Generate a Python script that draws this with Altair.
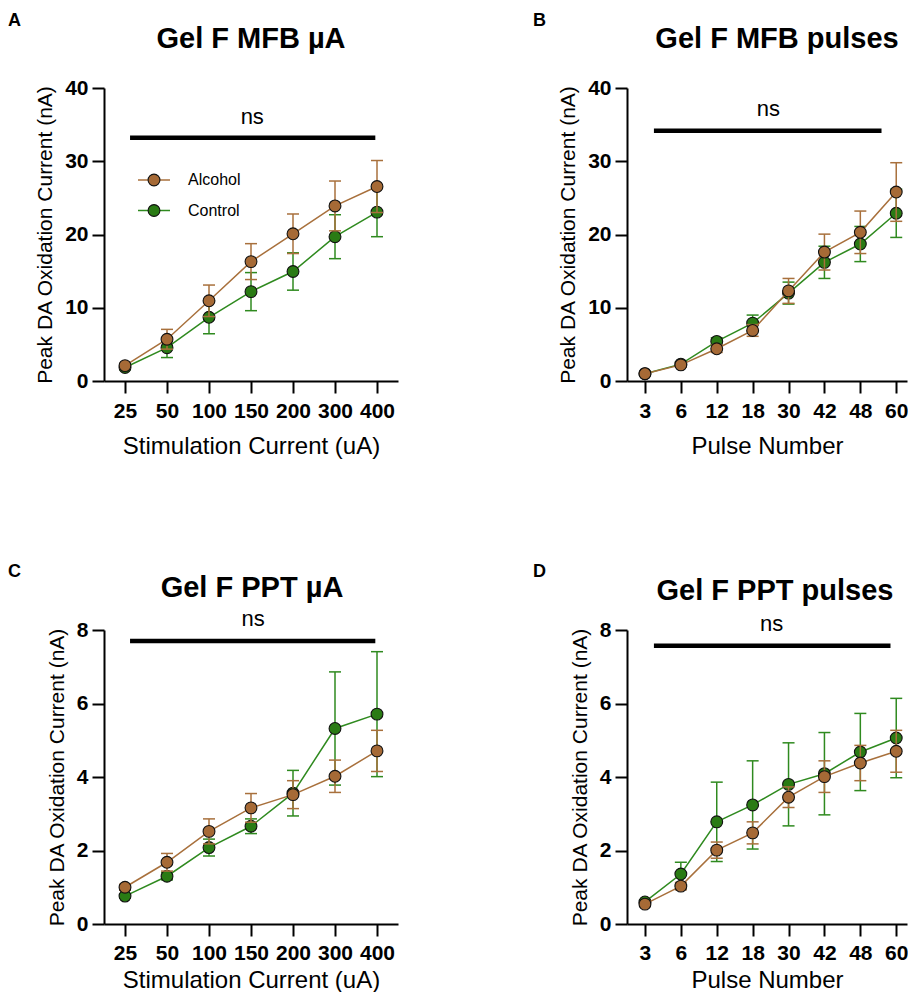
import json
import altair as alt
import pandas as pd

FONT = "Liberation Sans"
BROWN = "#A66A36"
BROWN_LINE = "#A8703C"
GREEN = "#2A7B14"
GREEN_LINE = "#2F8A1F"

series_names = ["Alcohol", "Control"]
y_title = "Peak DA Oxidation Current (nA)"

# ---- Panel A: Gel F MFB µA ----
a_labels = ["25", "50", "100", "150", "200", "300", "400"]
a_alc_mean = [2.1, 5.7, 10.95, 16.3, 20.1, 23.9, 26.55]
a_alc_sem = [0.3, 1.35, 2.15, 2.45, 2.7, 3.4, 3.55]
a_ctl_mean = [1.85, 4.55, 8.7, 12.2, 14.95, 19.7, 23.05]
a_ctl_sem = [0.3, 1.35, 2.25, 2.6, 2.55, 3.0, 3.35]

# ---- Panel B: Gel F MFB pulses ----
b_labels = ["3", "6", "12", "18", "30", "42", "48", "60"]
b_alc_mean = [1.0, 2.2, 4.4, 6.9, 12.3, 17.6, 20.3, 25.8]
b_alc_sem = [0.2, 0.3, 0.5, 0.8, 1.7, 2.45, 2.9, 4.0]
b_ctl_mean = [1.0, 2.3, 5.4, 7.9, 12.0, 16.2, 18.7, 22.9]
b_ctl_sem = [0.2, 0.3, 0.5, 1.1, 1.5, 2.2, 2.4, 3.3]

# ---- Panel C: Gel F PPT µA ----
c_labels = ["25", "50", "100", "150", "200", "300", "400"]
c_alc_mean = [1.0, 1.68, 2.52, 3.16, 3.52, 4.02, 4.71]
c_alc_sem = [0.08, 0.24, 0.34, 0.39, 0.38, 0.44, 0.56]
c_ctl_mean = [0.76, 1.30, 2.08, 2.66, 3.56, 5.32, 5.71]
c_ctl_sem = [0.06, 0.1, 0.23, 0.2, 0.62, 1.54, 1.7]

# ---- Panel D: Gel F PPT pulses ----
d_labels = ["3", "6", "12", "18", "30", "42", "48", "60"]
d_alc_mean = [0.54, 1.03, 2.01, 2.48, 3.45, 4.01, 4.38, 4.70]
d_alc_sem = [0.05, 0.1, 0.22, 0.3, 0.28, 0.43, 0.48, 0.57]
d_ctl_mean = [0.60, 1.36, 2.78, 3.24, 3.80, 4.09, 4.68, 5.06]
d_ctl_sem = [0.05, 0.32, 1.08, 1.2, 1.13, 1.12, 1.05, 1.08]

panel_letters = ["A", "B", "C", "D"]
panel_titles = ["Gel F MFB µA", "Gel F MFB pulses", "Gel F PPT µA", "Gel F PPT pulses"]
x_titles = ["Stimulation Current (uA)", "Pulse Number", "Stimulation Current (uA)", "Pulse Number"]
y_max = [40, 40, 8, 8]
y_ticks = [[0, 10, 20, 30, 40], [0, 10, 20, 30, 40], [0, 2, 4, 6, 8], [0, 2, 4, 6, 8]]

# significance annotation ("ns" over a bar), in data units
ns_text = ["ns", "ns", "ns", "ns"]
ns_x = [3.03, 3.44, 3.05, 3.53]
ns_y = [35.15, 36.15, 8.10, 7.96]
bar_x1 = [0.12, 0.25, 0.12, 0.25]
bar_x2 = [5.96, 6.59, 5.96, 6.84]
bar_y = [33.2, 34.15, 7.70, 7.57]

# layout (pixels)
x_dom_max = [6.5, 7.3, 6.5, 7.3]
widths = [294, 280, 294, 280]
heights = [293, 293, 294, 294]
label_dx = [-96, -94, -96, -94]
label_dy = [-62, -62, -53, -53]
title_cx = [147, 150, 148, 148]
title_dy = [-40, -40, -33, -30]
x_label_pad = [7, 7, 6, 6]
x_title_pad = [13, 13, 5, 5]


def series_df(labels, mean, sem):
    return pd.DataFrame({
        "idx": list(range(len(labels))),
        "cat": labels,
        "mean": mean,
        "lo": [m - s for m, s in zip(mean, sem)],
        "hi": [m + s for m, s in zip(mean, sem)],
    })


def make_panel(i, labels, alc_mean, alc_sem, ctl_mean, ctl_sem, legend=False):
    n = len(labels)
    xscale = alt.Scale(domain=[-0.5, x_dom_max[i]], nice=False, zero=False)
    yscale = alt.Scale(domain=[0, y_max[i]], nice=False, zero=True)
    xaxis = alt.Axis(values=list(range(n)), labelExpr=json.dumps(labels) + "[datum.value]",
                     title=x_titles[i], labelFlush=False, labelOverlap=False, labelBound=False,
                     labelPadding=x_label_pad[i], titlePadding=x_title_pad[i])
    yaxis = alt.Axis(values=y_ticks[i], title=y_title, labelOverlap=False, labelFlush=False)

    def X(field):
        return alt.X(field, type="quantitative", scale=xscale, axis=xaxis)

    def Y(field):
        return alt.Y(field, type="quantitative", scale=yscale, axis=yaxis)

    layers = []
    for mean, sem, fill, lcol in [(ctl_mean, ctl_sem, GREEN, GREEN_LINE),
                                   (alc_mean, alc_sem, BROWN, BROWN_LINE)]:
        df = series_df(labels, mean, sem)
        base = alt.Chart(df)
        layers.append(base.mark_rule(color=lcol, strokeWidth=1.5).encode(
            x=X("idx"), y=Y("lo"), y2=alt.Y2("hi")))
        layers.append(base.mark_tick(color=lcol, orient="horizontal", size=12, thickness=1.5, opacity=1).encode(
            x=X("idx"), y=Y("lo")))
        layers.append(base.mark_tick(color=lcol, orient="horizontal", size=12, thickness=1.5, opacity=1).encode(
            x=X("idx"), y=Y("hi")))
        layers.append(base.mark_line(color=lcol, strokeWidth=1.5).encode(x=X("idx"), y=Y("mean")))
        layers.append(base.mark_point(shape="circle", filled=True, fill=fill, stroke="#111111",
                                      strokeWidth=1.1, size=140, opacity=1).encode(
            x=X("idx"), y=Y("mean")))

    ann = pd.DataFrame({"x1": [bar_x1[i]], "x2": [bar_x2[i]], "by": [bar_y[i]],
                        "nx": [ns_x[i]], "ny": [ns_y[i]], "t": [ns_text[i]]})
    layers.append(alt.Chart(ann).mark_rule(color="black", strokeWidth=4.5, strokeCap="butt").encode(
        x=X("x1"), x2=alt.X2("x2"), y=Y("by")))
    layers.append(alt.Chart(ann).mark_text(font=FONT, fontSize=22, color="black", align="center",
                                           baseline="alphabetic").encode(
        x=X("nx"), y=Y("ny"), text="t:N"))

    tdf = pd.DataFrame({"t": [panel_titles[i]]})
    layers.append(alt.Chart(tdf).mark_text(font=FONT, fontSize=29, fontWeight="bold", color="black",
                                           align="center", baseline="alphabetic").encode(
        x=alt.value(title_cx[i]), y=alt.value(title_dy[i]), text="t:N"))
    ldf = pd.DataFrame({"t": [panel_letters[i]]})
    layers.append(alt.Chart(ldf).mark_text(font=FONT, fontSize=18, fontWeight="bold", color="black",
                                           align="left", baseline="alphabetic").encode(
        x=alt.value(label_dx[i]), y=alt.value(label_dy[i]), text="t:N"))

    if legend:
        for name, fill, lcol, ly in [(series_names[0], BROWN, BROWN_LINE, 92),
                                     (series_names[1], GREEN, GREEN_LINE, 122.5)]:
            gdf = pd.DataFrame({"t": [name]})
            g = alt.Chart(gdf)
            layers.append(g.mark_rule(color=lcol, strokeWidth=1.5).encode(
                x=alt.value(34), x2=alt.value(66), y=alt.value(ly)))
            layers.append(g.mark_point(shape="circle", filled=True, fill=fill, stroke="#111111",
                                       strokeWidth=1.1, size=140, opacity=1).encode(
                x=alt.value(50), y=alt.value(ly)))
            layers.append(g.mark_text(font=FONT, fontSize=16, color="black", align="left",
                                      baseline="middle").encode(
                x=alt.value(84), y=alt.value(ly), text="t:N"))

    return alt.layer(*layers).properties(width=widths[i], height=heights[i])


pA = make_panel(0, a_labels, a_alc_mean, a_alc_sem, a_ctl_mean, a_ctl_sem, legend=True)
pB = make_panel(1, b_labels, b_alc_mean, b_alc_sem, b_ctl_mean, b_ctl_sem)
pC = make_panel(2, c_labels, c_alc_mean, c_alc_sem, c_ctl_mean, c_ctl_sem)
pD = make_panel(3, d_labels, d_alc_mean, d_alc_sem, d_ctl_mean, d_ctl_sem)

chart = alt.vconcat(
    alt.hconcat(pA, pB, spacing=135),
    alt.hconcat(pC, pD, spacing=135),
    spacing=105,
).properties(
    padding={"left": 0, "top": 4, "right": 0, "bottom": 0}
).configure_view(
    strokeWidth=0
).configure_axis(
    domainColor="black", domainWidth=2, tickColor="black", tickWidth=2, tickSize=12,
    labelFont=FONT, labelFontSize=21, labelFontWeight="bold", labelColor="black",
    titleFont=FONT, titleFontWeight="normal", titleColor="black", grid=False
).configure_axisX(
    titleFontSize=24, labelAngle=0
).configure_axisY(
    labelPadding=4, titleFontSize=21, titlePadding=9
)

chart.save("out.html", embed_options={"renderer": "svg", "actions": False})
